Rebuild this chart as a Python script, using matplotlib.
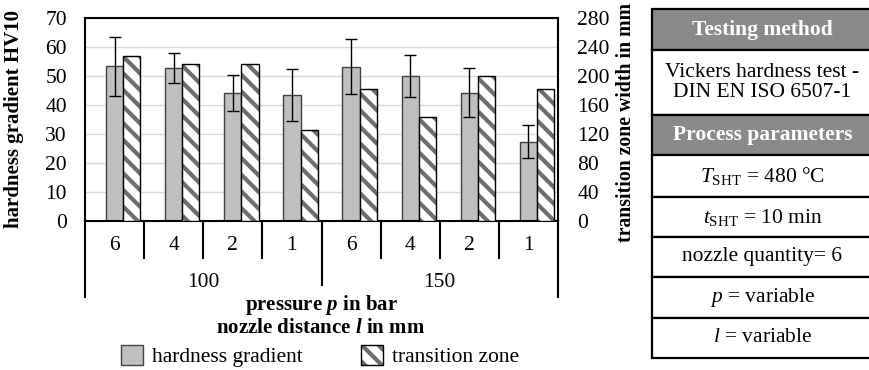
import matplotlib
matplotlib.use('Agg')
import matplotlib.pyplot as plt
import matplotlib.transforms as mtransforms
from matplotlib.patches import Patch, Rectangle
from matplotlib.legend_handler import HandlerTuple

plt.rcParams['font.family'] = ['Liberation Serif', 'DejaVu Serif']
plt.rcParams['mathtext.fontset'] = 'custom'
plt.rcParams['mathtext.rm'] = 'Liberation Serif'
plt.rcParams['mathtext.it'] = 'Liberation Serif:italic'
plt.rcParams['mathtext.bf'] = 'Liberation Serif:bold'
plt.rcParams['mathtext.bfit'] = 'Liberation Serif:bold:italic'
plt.rcParams['hatch.linewidth'] = 3.0

# data
distance = ['6', '4', '2', '1', '6', '4', '2', '1']
pressure = ['100', '150']
hardness = [53.2, 52.6, 44.0, 43.3, 53.1, 50.0, 44.2, 27.3]
hardness_err = [10.1, 5.2, 6.2, 9.0, 9.5, 7.3, 8.3, 5.7]
transition = [227, 216, 216, 125, 181, 143, 199, 181]

table_rows = [
    ('Testing method', True),
    ('Vickers hardness test -\nDIN EN ISO 6507-1', False),
    ('Process parameters', True),
    (r'$T_{\mathrm{SHT}}$ = 480 °C', False),
    (r'$t_{\mathrm{SHT}}$ = 10 min', False),
    ('nozzle quantity= 6', False),
    (r'$p$ = variable', False),
    (r'$l$ = variable', False),
]
row_edges = [9, 50, 115, 155, 197, 237, 277, 318, 358]

W, H = 869, 370
fs = 15.5
fsb = 15

fig = plt.figure(figsize=(W / 100, H / 100), dpi=100)
ax = fig.add_axes([85 / W, 1 - 220.7 / H, (558 - 85) / W, (220.7 - 17.7) / H])
ax2 = ax.twinx()

x = list(range(len(hardness)))
xc = [i + 0.5 for i in x]
bw = 0.29
hatch_col = '#6e6e6e'

ax.bar(xc, hardness, width=bw, color='#bfbfbf', edgecolor='#404040', linewidth=1, zorder=2)
ax.errorbar(xc, hardness, yerr=hardness_err, fmt='none', ecolor='black',
            elinewidth=1, capsize=4.5, capthick=1, zorder=3)

xt = [c + bw for c in xc]
ax2.bar(xt, transition, width=bw, color='white', edgecolor=hatch_col, hatch='\\\\',
        linewidth=0, zorder=2)
ax2.bar(xt, transition, width=bw, fill=False, edgecolor='black', linewidth=1, zorder=3)

ax.set_xlim(0, 8)
ax.set_ylim(0, 70)
ax.set_yticks(range(0, 71, 10))
ax2.set_ylim(0, 280)
ax2.set_yticks(range(0, 281, 40))
ax.set_xticks([])
ax.yaxis.grid(True, color='#d9d9d9', linewidth=1)
ax.set_axisbelow(True)
ax.tick_params(axis='y', length=0, pad=13, labelsize=fs)
ax2.tick_params(axis='y', length=0, pad=14, labelsize=fs)
for s in ax.spines.values():
    s.set_linewidth(1.5)
    s.set_color('black')
for s in ax2.spines.values():
    s.set_visible(False)

# two-level category axis
trans = mtransforms.blended_transform_factory(ax.transData, ax.transAxes)
for i, lab in enumerate(distance):
    ax.text(i + 0.5, -0.12, lab, transform=trans, ha='center', va='center', fontsize=fs)
for i in [1, 2, 3, 5, 6, 7]:
    ax.plot([i, i], [0, -0.184], transform=trans, color='black', lw=1.5, clip_on=False)
ax.plot([4, 4], [0, -0.317], transform=trans, color='black', lw=1.5, clip_on=False)
for i in [0, 8]:
    ax.plot([i, i], [0, -0.376], transform=trans, color='black', lw=1.5, clip_on=False)
for j, lab in enumerate(pressure):
    ax.text(4 * j + 2, -0.305, lab, transform=trans, ha='center', va='center', fontsize=fs)

fig.text(14 / W, 1 - 119 / H, 'hardness gradient HV10', rotation=90, ha='center',
         va='center', fontsize=fsb, fontweight='bold')
fig.text(626 / W, 1 - 122 / H, 'transition zone width in mm', rotation=90, ha='center',
         va='center', fontsize=14.2, fontweight='bold')
fig.text(321 / W, 1 - 305 / H, r'pressure $\mathbfit{p}$ in bar', ha='center',
         va='center', fontsize=fsb, fontweight='bold')
fig.text(321 / W, 1 - 328 / H, r'nozzle distance $\mathbfit{l}$ in mm', ha='center',
         va='center', fontsize=fsb, fontweight='bold')

handles = [Patch(facecolor='#bfbfbf', edgecolor='#404040', linewidth=1),
           (Patch(facecolor='white', edgecolor=hatch_col, hatch='\\\\', linewidth=0),
            Patch(fill=False, edgecolor='black', linewidth=1))]
fig.legend(handles=handles, labels=['hardness gradient', 'transition zone'],
           handler_map={tuple: HandlerTuple(ndivide=1, pad=0)},
           loc='center', bbox_to_anchor=(320 / W, 1 - 356 / H), ncol=2, frameon=False,
           handlelength=1.05, handleheight=1.05, columnspacing=2.7, handletextpad=0.4,
           fontsize=fs, borderpad=0)

# side table
tx = fig.add_axes([0, 0, 1, 1])
tx.set_xlim(0, W)
tx.set_ylim(H, 0)
tx.axis('off')
left, right = 652, 871
for k, (txt, header) in enumerate(table_rows):
    y0, y1 = row_edges[k], row_edges[k + 1]
    tx.add_patch(Rectangle((left, y0), right - left, y1 - y0,
                           facecolor='#8a8a8a' if header else 'white',
                           edgecolor='black', linewidth=1.6))
    tx.text((left + 869) / 2 + 2, (y0 + y1) / 2, txt, ha='center', va='center',
            fontsize=fs, color='white' if header else 'black',
            fontweight='bold' if header else 'normal', linespacing=1.1)

fig.savefig('out.png', dpi=100)
